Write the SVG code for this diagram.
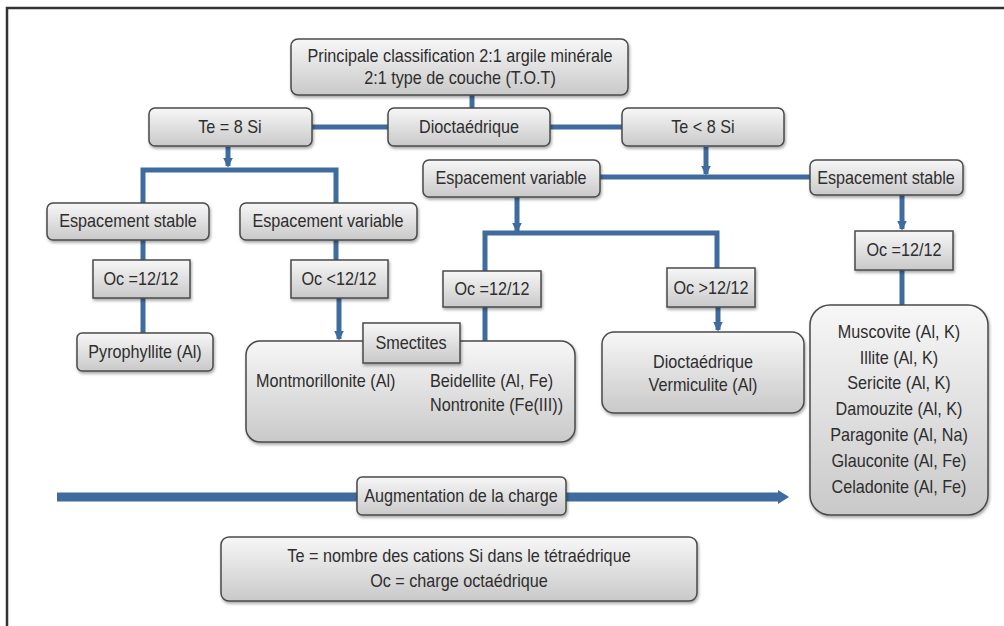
<svg xmlns="http://www.w3.org/2000/svg" width="1004" height="626" viewBox="0 0 1004 626">
<style>
.b{fill:url(#g);stroke:#4a4a4a;stroke-width:1.5;filter:url(#sh)}
.t{font-family:"Liberation Sans",Arial,sans-serif;font-size:18px;fill:#2e2e2e;text-anchor:middle}
.l{text-anchor:start}
.c{fill:none;stroke:#3f6c9e;stroke-width:5}
.a{marker-end:url(#ar)}
</style>
<defs>
<linearGradient id="g" x1="0" y1="0" x2="0" y2="1">
<stop offset="0" stop-color="#f7f7f7"/>
<stop offset="1" stop-color="#c9c9c9"/>
</linearGradient>
<filter id="sh" x="-10%" y="-10%" width="120%" height="130%">
<feDropShadow dx="1" dy="2" stdDeviation="1.5" flood-color="#000" flood-opacity="0.35"/>
</filter>
<marker id="ar" viewBox="0 0 6 6" refX="5" refY="3" markerWidth="2" markerHeight="2" orient="auto">
<path d="M0,0L6,3L0,6z" fill="#3f6c9e"/>
</marker>
</defs>
<rect width="1004" height="626" fill="#fff"/>
<path d="M7,626V8H1004" fill="none" stroke="#333" stroke-width="2.5"/>

<g id="connectors">
<path class="c" d="M472,95V108"/>
<path class="c" d="M312,127H388M550,127H622"/>
<path class="c a" d="M228,147V166"/>
<path class="c" d="M143,203V170H336V203"/>
<path class="c a" d="M706,147V174"/>
<path class="c" d="M600,177H810"/>
<path class="c" d="M143,240V260M143,298V333"/>
<path class="c" d="M336,240V260"/>
<path class="c a" d="M339,298V339"/>
<path class="c a" d="M517,197V231"/>
<path class="c" d="M485,271V233H717V268"/>
<path class="c" d="M485,307V341"/>
<path class="c a" d="M718,307V330"/>
<path class="c a" d="M902,195V229"/>
<path class="c" d="M902,270V305"/>
<path d="M57,497H357M566,497H778" fill="none" stroke="#3f6c9e" stroke-width="9"/>
<path d="M778,490L789,497L778,504z" fill="#3f6c9e"/>
</g>

<g id="n-top"><rect class="b" x="291" y="39" width="337" height="56" rx="7"/>
<text class="t" transform="translate(460,62) scale(0.9,1)">Principale classification 2:1 argile minérale</text>
<text class="t" transform="translate(460,84) scale(0.9,1)">2:1 type de couche (T.O.T)</text></g>
<g id="n-dio"><rect class="b" x="388" y="108" width="162" height="38" rx="6"/>
<text class="t" transform="translate(469,133) scale(0.9,1)">Dioctaédrique</text></g>
<g id="n-te8"><rect class="b" x="149" y="108" width="163" height="38" rx="6"/>
<text class="t" transform="translate(230,133) scale(0.9,1)">Te = 8 Si</text></g>
<g id="n-tel8"><rect class="b" x="622" y="108" width="162" height="38" rx="6"/>
<text class="t" transform="translate(703,133) scale(0.9,1)">Te &lt; 8 Si</text></g>
<g id="n-ev2"><rect class="b" x="423" y="160" width="177" height="37" rx="6"/>
<text class="t" transform="translate(511,184) scale(0.9,1)">Espacement variable</text></g>
<g id="n-es2"><rect class="b" x="810" y="160" width="153" height="35" rx="6"/>
<text class="t" transform="translate(886,184) scale(0.9,1)">Espacement stable</text></g>
<g id="n-es1"><rect class="b" x="47" y="203" width="162" height="37" rx="6"/>
<text class="t" transform="translate(128,227) scale(0.9,1)">Espacement stable</text></g>
<g id="n-ev1"><rect class="b" x="240" y="203" width="177" height="37" rx="6"/>
<text class="t" transform="translate(328,227) scale(0.9,1)">Espacement variable</text></g>
<g id="n-oc1"><rect class="b" x="93" y="260" width="97" height="38"/>
<text class="t" transform="translate(141,285) scale(0.9,1)">Oc =12/12</text></g>
<g id="n-oc2"><rect class="b" x="291" y="260" width="97" height="38"/>
<text class="t" transform="translate(339,285) scale(0.9,1)">Oc &lt;12/12</text></g>
<g id="n-oc3"><rect class="b" x="443" y="271" width="98" height="36"/>
<text class="t" transform="translate(492,295) scale(0.9,1)">Oc =12/12</text></g>
<g id="n-oc4"><rect class="b" x="667" y="268" width="88" height="39"/>
<text class="t" transform="translate(711,294) scale(0.9,1)">Oc &gt;12/12</text></g>
<g id="n-oc5"><rect class="b" x="855" y="231" width="98" height="39"/>
<text class="t" transform="translate(904,256) scale(0.9,1)">Oc =12/12</text></g>
<g id="n-pyro"><rect class="b" x="77" y="333" width="136" height="38" rx="5"/>
<text class="t" transform="translate(145,358) scale(0.9,1)">Pyrophyllite (Al)</text></g>
<g id="n-smec"><rect class="b" x="246" y="341" width="329" height="101" rx="14"/>
<text class="t l" transform="translate(256,387) scale(0.9,1)">Montmorillonite (Al)</text>
<text class="t l" transform="translate(430,387) scale(0.9,1)">Beidellite (Al, Fe)</text>
<text class="t l" transform="translate(430,411) scale(0.9,1)">Nontronite (Fe(III))</text></g>
<g id="n-smlab"><rect class="b" x="363" y="323" width="97" height="40"/>
<text class="t" transform="translate(411,349) scale(0.9,1)">Smectites</text></g>
<g id="n-verm"><rect class="b" x="602" y="332" width="202" height="81" rx="12"/>
<text class="t" transform="translate(703,368) scale(0.9,1)">Dioctaédrique</text>
<text class="t" transform="translate(703,391) scale(0.9,1)">Vermiculite (Al)</text></g>
<g id="n-mica"><rect class="b" x="810" y="305" width="178" height="210" rx="20"/>
<text class="t" transform="translate(899,338) scale(0.9,1)">Muscovite (Al, K)</text>
<text class="t" transform="translate(899,364) scale(0.9,1)">Illite (Al, K)</text>
<text class="t" transform="translate(899,389) scale(0.9,1)">Sericite (Al, K)</text>
<text class="t" transform="translate(899,415) scale(0.9,1)">Damouzite (Al, K)</text>
<text class="t" transform="translate(899,441) scale(0.9,1)">Paragonite (Al, Na)</text>
<text class="t" transform="translate(899,467) scale(0.9,1)">Glauconite (Al, Fe)</text>
<text class="t" transform="translate(899,493) scale(0.9,1)">Celadonite (Al, Fe)</text></g>
<g id="n-aug"><rect class="b" x="357" y="477" width="209" height="38" rx="5"/>
<text class="t" transform="translate(461,502) scale(0.9,1)">Augmentation de la charge</text></g>
<g id="n-legend"><rect class="b" x="221" y="537" width="476" height="64" rx="8"/>
<text class="t" transform="translate(459,562) scale(0.9,1)">Te = nombre des cations Si dans le tétraédrique</text>
<text class="t" transform="translate(459,587) scale(0.9,1)">Oc = charge octaédrique</text></g>
</svg>
